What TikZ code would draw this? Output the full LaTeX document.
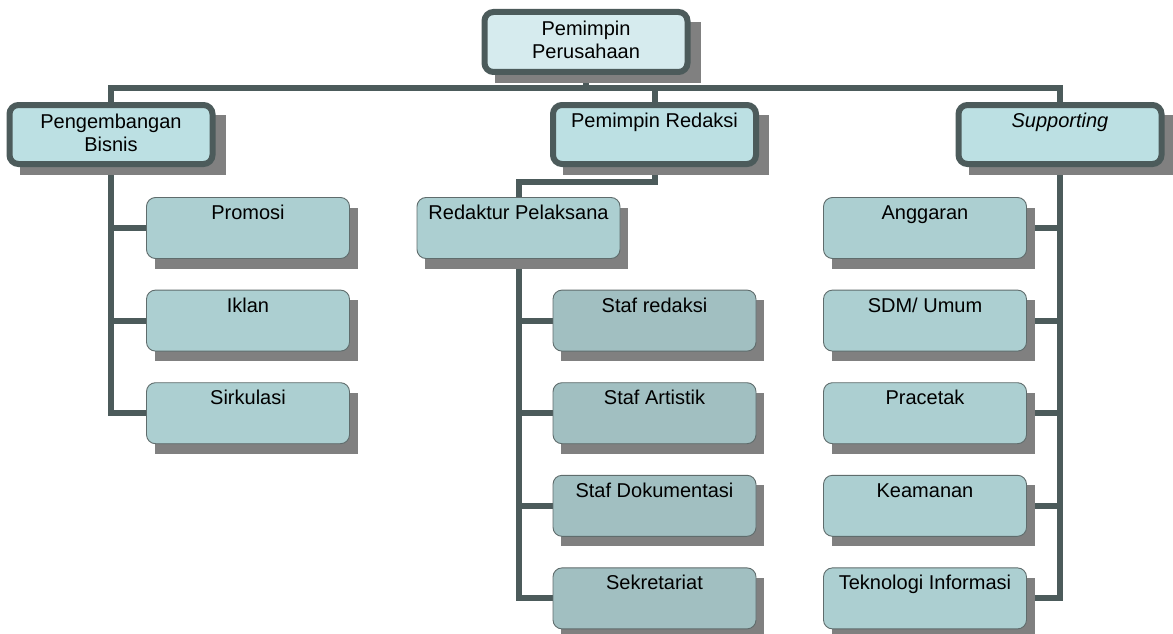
\documentclass[tikz,border=0pt]{standalone}
\usepackage{fontspec}
\setmainfont{Liberation Sans}
\usetikzlibrary{positioning,backgrounds}
\definecolor{LN}{HTML}{4C5B5B}
\definecolor{BD}{HTML}{5F6C6C}
\definecolor{SH}{HTML}{808080}
\definecolor{FA}{HTML}{D6EBEE}
\definecolor{FB}{HTML}{BCE0E3}
\definecolor{FC}{HTML}{ACCFD1}
\definecolor{FD}{HTML}{A1BFC1}

\begin{document}
\begin{tikzpicture}[x=1pt,y=-1pt,
    font=\fontsize{20}{23}\selectfont,
    topbox/.style={draw=LN, line width=6pt, rounded corners=9pt, fill=#1,
      minimum width=203pt, inner sep=0pt, outer sep=0pt, align=center,
      text height=23pt, text depth=36pt},
    twolines/.style={text height=46pt, text depth=13pt},
    subbox/.style={draw=BD, line width=0.9pt, rounded corners=9pt, fill=#1,
      minimum width=203pt, inner sep=0pt, outer sep=0pt, align=center,
      text height=22pt, text depth=39pt},
    conn/.style={draw=LN, line width=6pt}]
  \useasboundingbox (0,0) rectangle (1173,634);
  % pimpinan
  \node[topbox=FA, twolines, text height=47pt] (ceo) at (586,42) {Pemimpin\\Perusahaan};
  \node[topbox=FB, twolines] (bisnis) at (111,134.5) {Pengembangan\\Bisnis};
  \node[topbox=FB] (redaksi) at (654.5,134.5) {Pemimpin Redaksi};
  \node[topbox=FB] (supp) at (1060,134.5) {\textit{Supporting}};
  % bagian bawah
  \foreach \t [count=\i from 0] in {Promosi,Iklan,Sirkulasi}
    \node[subbox=FC] (bis\i) at (248,{228+\i*92.6}) {\t};
  \node[subbox=FC] (pel) at (518.5,228) {Redaktur Pelaksana};
  \foreach \t [count=\i from 1] in {Staf redaksi,Staf Artistik,Staf Dokumentasi,Sekretariat}
    \node[subbox=FD] (staf\i) at (654.5,{228+\i*92.6}) {\t};
  \foreach \t [count=\i from 0] in {Anggaran,SDM/ Umum,Pracetak,Keamanan,Teknologi Informasi}
    \node[subbox=FC] (sup\i) at (925,{228+\i*92.6}) {\t};
  \begin{scope}[on background layer]
    % garis penghubung
    \draw[conn] (ceo.south) -- ++(0,16.5) coordinate (bus);
    \draw[conn] (bisnis.north) |- (bus) -| (supp.north);
    \draw[conn] (bus) -| (redaksi.north);
    \draw[conn] (bisnis.south) |- (bis2.west);
    \foreach \i in {0,1}
      \draw[conn] (bisnis.south |- bis\i.west) -- (bis\i.west);
    \draw[conn] (redaksi.south) -- ++(0,18) -| (pel.north);
    \draw[conn] (pel.south) |- (staf4.west);
    \foreach \i in {1,2,3}
      \draw[conn] (pel.south |- staf\i.west) -- (staf\i.west);
    \draw[conn] (supp.south) |- (sup4.east);
    \foreach \i in {0,...,3}
      \draw[conn] (supp.south |- sup\i.east) -- (sup\i.east);
    % bayangan
    \foreach \n in {ceo,bisnis,redaksi,supp}
      \fill[SH] ([shift={(10,10)}]\n.north west) rectangle ([shift={(13,11)}]\n.south east);
    \foreach \n in {bis0,bis1,bis2,pel,staf1,staf2,staf3,staf4,sup0,sup1,sup2,sup3,sup4}
      \fill[SH] ([shift={(8,10)}]\n.north west) rectangle ([shift={(8,10)}]\n.south east);
  \end{scope}
\end{tikzpicture}
\end{document}
